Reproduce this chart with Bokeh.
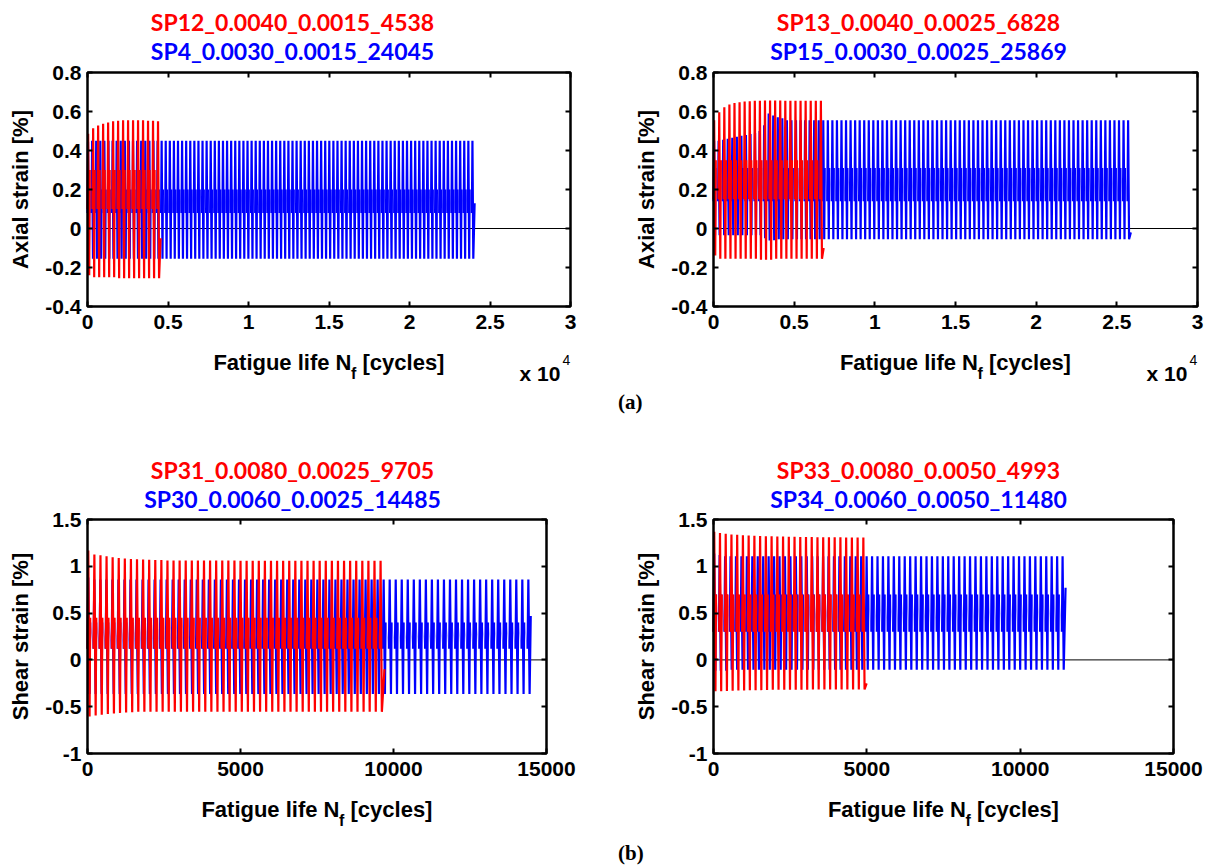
import math
from bokeh.plotting import figure
from bokeh.layouts import row, column
from bokeh.models import LinearAxis, FixedTicker, Range1d, ColumnDataSource, BoxAnnotation
from bokeh.core.properties import value
from bokeh.embed import file_html
from bokeh.resources import INLINE

RED = "#FF0000"
BLUE = "#0000FF"
TICK_FONT = "Liberation Sans"
TITLE_FONT = "Lato"
SERIF_FONT = "Liberation Serif"

# ---------------- tick positions / labels ----------------
X_TICKS_A = [0, 5000, 10000, 15000, 20000, 25000, 30000]
X_LABELS_A = ["0", "0.5", "1", "1.5", "2", "2.5", "3"]
Y_TICKS_A = [-0.4, -0.2, 0, 0.2, 0.4, 0.6, 0.8]
Y_LABELS_A = ["-0.4", "-0.2", "0", "0.2", "0.4", "0.6", "0.8"]
X_TICKS_B = [0, 5000, 10000, 15000]
X_LABELS_B = ["0", "5000", "10000", "15000"]
Y_TICKS_B = [-1, -0.5, 0, 0.5, 1, 1.5]
Y_LABELS_B = ["-1", "-0.5", "0", "0.5", "1", "1.5"]

# ---------------- series (recorded-loop peaks read from the picture) ----------------
# (a) left : SP12 (red) / SP4 (blue)
SP12_NAME = "SP12_0.0040_0.0015_4538"
SP12_STEP = 310
SP12_MAX = [0.486, 0.514, 0.528, 0.537, 0.544, 0.55, 0.552, 0.555, 0.555, 0.555,
            0.555, 0.555, 0.553, 0.553, 0.55]
SP12_MIN = [-0.24] + [-0.25] * 5 + [-0.255] * 9
SP12_MID = (0.10, 0.30)
SP12_END = (4538, -0.05)

SP4_NAME = "SP4_0.0030_0.0015_24045"
SP4_STEP = 254
SP4_MAX = [0.445] + [0.45] * 94
SP4_MIN = [-0.155] * 95
SP4_MID = (0.08, 0.20)
SP4_END = (24045, 0.13)

# (a) right : SP13 (red) / SP15 (blue)
SP13_NAME = "SP13_0.0040_0.0025_6828"
SP13_STEP = 315
SP13_MAX = [0.555, 0.596, 0.622, 0.636, 0.643, 0.648, 0.651, 0.653, 0.655, 0.655,
            0.657, 0.657, 0.657, 0.657] + [0.655] * 8
SP13_MIN = [-0.138] + [-0.155] * 8 + [-0.16] * 3 + [-0.155] * 10
SP13_MID = (0.15, 0.35)
SP13_END = (6828, -0.10)

SP15_NAME = "SP15_0.0030_0.0025_25869"
SP15_STEP = 282
SP15_MAX = [0.45, 0.45, 0.455, 0.46, 0.465, 0.47, 0.475, 0.48, 0.485, 0.49, 0.5,
            0.53, 0.59, 0.58, 0.57, 0.565] + [0.555] * 76
SP15_MIN = [-0.035] * 11 + [-0.05, -0.062, -0.06, -0.055] + [-0.055] * 77
SP15_MID = (0.14, 0.31)
SP15_END = (25869, -0.02)

# (b) left : SP31 (red) / SP30 (blue)
SP31_NAME = "SP31_0.0080_0.0025_9705"
SP31_STEP = 199
SP31_MAX = [1.17, 1.125, 1.118, 1.107, 1.096, 1.089, 1.082, 1.079, 1.075, 1.072,
            1.07, 1.068, 1.066] + [1.063] * 12 + [1.06] * 24
SP31_MIN = [-0.604, -0.595, -0.585, -0.579, -0.572, -0.566, -0.561, -0.558] + [-0.555] * 41
SP31_MID = (0.12, 0.45)
SP31_END = (9705, -0.10)

SP30_NAME = "SP30_0.0060_0.0025_14485"
SP30_STEP = 197
SP30_MAX = [0.879] + [0.86] * 73
SP30_MIN = [-0.364] * 74
SP30_MID = (0.12, 0.40)
SP30_END = (14485, 0.47)

# (b) right : SP33 (red) / SP34 (blue)
SP33_NAME = "SP33_0.0080_0.0050_4993"
SP33_STEP = 187
SP33_MAX = [1.368, 1.355, 1.348, 1.34, 1.336, 1.332, 1.329, 1.326, 1.324, 1.322,
            1.32, 1.318, 1.317, 1.316, 1.315, 1.314, 1.313, 1.312, 1.311, 1.31,
            1.31, 1.309, 1.309, 1.308, 1.308, 1.308, 1.308]
SP33_MIN = [-0.336, -0.334, -0.332, -0.33, -0.328, -0.326, -0.325, -0.324, -0.323,
            -0.322] + [-0.32] * 7 + [-0.315] * 10
SP33_MID = (0.30, 0.70)
SP33_END = (4993, -0.25)

SP34_NAME = "SP34_0.0060_0.0050_11480"
SP34_STEP = 177.5
SP34_MAX = [1.136, 1.12] + [1.107] * 63
SP34_MIN = [-0.115] * 3 + [-0.105] * 62
SP34_MID = (0.30, 0.70)
SP34_END = (11480, 0.77)

# shape of one recorded loop inside its slot (fractions of the slot width)
F_MAX, F_MIN, F_HI = 0.13, 0.34, 0.44


def loops(step, maxs, mins, mid, end):
    lo, hi = mid
    end_x, end_y = end
    xs, ys = [], []
    cx0, cy0, cx1, cy1 = [], [], [], []
    n = len(maxs)
    for k in range(n):
        xk = k * step
        xs += [xk, xk + F_MAX * step, xk + F_MIN * step]
        ys += [lo, maxs[k], mins[k]]
        if k < n - 1:
            xs += [xk + F_HI * step, float("nan")]
            ys += [hi, float("nan")]
            cx0.append(xk + F_HI * step)
            cy0.append(hi)
            cx1.append((k + 1) * step)
            cy1.append(lo)
        else:
            xs.append(end_x)
            ys.append(end_y)
    return dict(x=xs, y=ys), dict(x0=cx0, y0=cy0, x1=cx1, y1=cy1)


def axis(ticks, labels, fixed, bounds, show, standoff):
    ax = LinearAxis(ticker=FixedTicker(ticks=ticks), fixed_location=fixed, bounds=bounds,
                    axis_line_color=None, major_tick_in=5, major_tick_out=0,
                    major_tick_line_width=2, major_tick_line_color="black",
                    minor_tick_line_color=None, major_label_standoff=standoff,
                    major_label_text_font=TICK_FONT, major_label_text_font_style="bold",
                    major_label_text_font_size="21px",
                    major_label_text_color="black" if show else None)
    if show:
        ax.major_label_overrides = {t: s for t, s in zip(ticks, labels)}
    return ax


def make_panel(spec):
    W, H = spec["size"]
    L, T, fw, fh = spec["vframe"]
    xmin, xmax = spec["xr"]
    ymin, ymax = spec["yr"]
    kx = (xmax - xmin) / fw
    ky = (ymax - ymin) / fh
    p = figure(width=W, height=H,
               x_range=Range1d(xmin - L * kx, xmin + (W - L) * kx),
               y_range=Range1d(ymax - (H - T) * ky, ymax + T * ky),
               output_backend="svg", toolbar_location=None,
               x_axis_location=None, y_axis_location=None, title_location=None,
               min_border=0)
    p.grid.visible = False
    p.outline_line_color = None
    p.background_fill_color = "white"
    p.border_fill_color = "white"

    def at(dx, dy):
        return xmin + dx * kx, ymax - dy * ky

    xt, xl = spec["xticks"]
    yt, yl = spec["yticks"]
    p.add_layout(axis(yt, yl, xmin, (ymin, ymax), True, 6), "left")
    p.add_layout(axis(xt, xl, ymin, (xmin, xmax), True, 8), "below")
    p.add_layout(axis(yt, yl, xmax, (ymin, ymax), False, 0), "right")
    p.add_layout(axis(xt, xl, ymax, (xmin, xmax), False, 0), "above")

    # zero reference line across the axes
    p.segment(x0=[xmin], y0=[0], x1=[xmax], y1=[0], line_color="black", line_width=1)

    for ser, color in ((spec["blue"], BLUE), (spec["red"], RED)):
        line_d, seg_d = loops(*ser)
        p.segment(x0="x0", y0="y0", x1="x1", y1="y1", source=ColumnDataSource(seg_d),
                  line_color=color, line_width=1.0, line_alpha=0.25)
        p.line(x="x", y="y", source=ColumnDataSource(line_d),
               line_color=color, line_width=2.2)

    p.add_layout(BoxAnnotation(left=xmin, right=xmax, bottom=ymin, top=ymax,
                               fill_color=None, fill_alpha=0, line_color="black",
                               line_width=2.5, line_alpha=1))

    def txt(dx, dy, text, font, size, color="black", align="left",
            baseline="alphabetic", style="bold", angle=0.0):
        x, y = at(dx, dy)
        p.text(x=[x], y=[y], text=[text], text_font=value(font), text_font_size=size,
               text_font_style=style, text_color=color, text_align=align,
               text_baseline=baseline, angle=angle)

    # titles
    tdx = spec["title_dx"]
    txt(tdx, spec["title_dy"][0], spec["red_name"], TITLE_FONT, "23px", RED, "center", "middle")
    txt(tdx, spec["title_dy"][1], spec["blue_name"], TITLE_FONT, "23px", BLUE, "center", "middle")

    # y label
    txt(-67.5, fh / 2, spec["ylabel"], TICK_FONT, "22px", "black", "center", "middle",
        angle=math.pi / 2)

    # x label with subscript f
    cx = fw / 2
    txt(cx + 22.5, fh + 56, "Fatigue life N", TICK_FONT, "22px", "black", "right")
    txt(cx + 22, fh + 67, "f", TICK_FONT, "16px", "black", "left")
    txt(cx + 33.5, fh + 56, "[cycles]", TICK_FONT, "22px", "black", "left")

    if spec.get("power"):
        txt(fw - 51, fh + 67, "x 10", TICK_FONT, "21px", "black", "left")
        txt(fw - 8, fh + 53, "4", TICK_FONT, "14px", "black", "left", style="normal")

    if spec.get("tag"):
        t, dx, dy = spec["tag"]
        txt(dx, dy, t, SERIF_FONT, "21px", "black", "left")
    return p


specs = [
    dict(size=(600, 430), vframe=(87, 72, 483, 234), xr=(0, 30000), yr=(-0.4, 0.8),
         xticks=(X_TICKS_A, X_LABELS_A), yticks=(Y_TICKS_A, Y_LABELS_A),
         ylabel="Axial strain [%]", power=True,
         red=(SP12_STEP, SP12_MAX, SP12_MIN, SP12_MID, SP12_END), red_name=SP12_NAME,
         blue=(SP4_STEP, SP4_MAX, SP4_MIN, SP4_MID, SP4_END), blue_name=SP4_NAME,
         title_dx=205, title_dy=(-51, -22)),
    dict(size=(607, 430), vframe=(113, 72, 484, 234), xr=(0, 30000), yr=(-0.4, 0.8),
         xticks=(X_TICKS_A, X_LABELS_A), yticks=(Y_TICKS_A, Y_LABELS_A),
         ylabel="Axial strain [%]", power=True,
         red=(SP13_STEP, SP13_MAX, SP13_MIN, SP13_MID, SP13_END), red_name=SP13_NAME,
         blue=(SP15_STEP, SP15_MAX, SP15_MIN, SP15_MID, SP15_END), blue_name=SP15_NAME,
         title_dx=205, title_dy=(-51, -22), tag=("(a)", -95.5, 329)),
    dict(size=(600, 437), vframe=(87, 89, 459, 234), xr=(0, 15000), yr=(-1, 1.5),
         xticks=(X_TICKS_B, X_LABELS_B), yticks=(Y_TICKS_B, Y_LABELS_B),
         ylabel="Shear strain [%]",
         red=(SP31_STEP, SP31_MAX, SP31_MIN, SP31_MID, SP31_END), red_name=SP31_NAME,
         blue=(SP30_STEP, SP30_MAX, SP30_MIN, SP30_MID, SP30_END), blue_name=SP30_NAME,
         title_dx=205, title_dy=(-50, -21)),
    dict(size=(607, 437), vframe=(113, 89, 460, 234), xr=(0, 15000), yr=(-1, 1.5),
         xticks=(X_TICKS_B, X_LABELS_B), yticks=(Y_TICKS_B, Y_LABELS_B),
         ylabel="Shear strain [%]",
         red=(SP33_STEP, SP33_MAX, SP33_MIN, SP33_MID, SP33_END), red_name=SP33_NAME,
         blue=(SP34_STEP, SP34_MAX, SP34_MIN, SP34_MID, SP34_END), blue_name=SP34_NAME,
         title_dx=205, title_dy=(-50, -21), tag=("(b)", -95.5, 333)),
]

figs = [make_panel(s) for s in specs]
layout = column(row(figs[0], figs[1]), row(figs[2], figs[3]))

with open("out.html", "w") as f:
    f.write(file_html(layout, INLINE))
